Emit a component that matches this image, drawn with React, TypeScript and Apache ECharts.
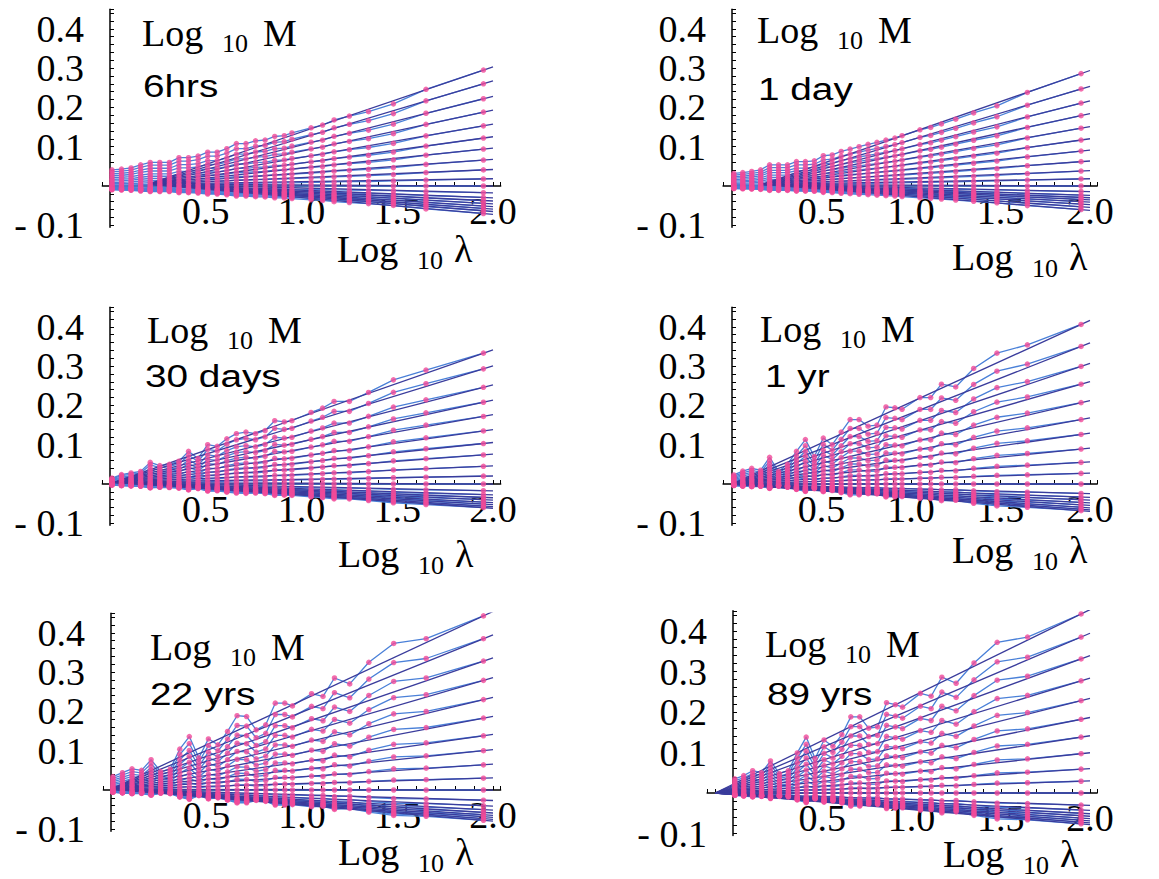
import React, { useEffect, useRef } from 'react';
import * as echarts from 'echarts';

// ---- data ----
const xs = [0.01, 0.06, 0.11, 0.16, 0.21, 0.26, 0.31, 0.36, 0.41, 0.46, 0.51, 0.56, 0.61, 0.66, 0.71, 0.76, 0.81, 0.86, 0.91, 0.95, 1.05, 1.11, 1.17, 1.25, 1.35, 1.48, 1.65, 1.95];

const panelTitles = ['6hrs', '1 day', '30 days', '1 yr', '22 yrs', '89 yrs'];

// top (highest-q) empirical curve of each panel
const top6hrs = [0.041, 0.043, 0.046, 0.054, 0.06, 0.06, 0.06, 0.072, 0.072, 0.076, 0.086, 0.086, 0.095, 0.108, 0.108, 0.115, 0.117, 0.126, 0.128, 0.135, 0.148, 0.155, 0.168, 0.178, 0.189, 0.209, 0.246, 0.295];
const top1day = [0.032, 0.034, 0.037, 0.041, 0.054, 0.054, 0.054, 0.062, 0.062, 0.064, 0.077, 0.079, 0.088, 0.094, 0.1, 0.106, 0.111, 0.117, 0.122, 0.128, 0.143, 0.149, 0.158, 0.17, 0.186, 0.204, 0.238, 0.286];
const top30days = [0.015, 0.024, 0.028, 0.032, 0.055, 0.047, 0.05, 0.058, 0.083, 0.065, 0.1, 0.096, 0.115, 0.128, 0.132, 0.128, 0.136, 0.161, 0.158, 0.161, 0.182, 0.193, 0.21, 0.21, 0.233, 0.265, 0.29, 0.333];
const top1yr = [0.023, 0.033, 0.04, 0.035, 0.068, 0.032, 0.05, 0.083, 0.113, 0.07, 0.117, 0.1, 0.132, 0.164, 0.164, 0.147, 0.15, 0.196, 0.194, 0.19, 0.22, 0.22, 0.254, 0.247, 0.294, 0.333, 0.354, 0.406];
const top22yrs = [0.034, 0.044, 0.054, 0.05, 0.077, 0.047, 0.053, 0.104, 0.136, 0.082, 0.13, 0.115, 0.149, 0.189, 0.187, 0.153, 0.166, 0.221, 0.221, 0.214, 0.245, 0.238, 0.285, 0.27, 0.325, 0.373, 0.385, 0.443];
const top89yrs = [0.035, 0.043, 0.055, 0.05, 0.079, 0.048, 0.055, 0.099, 0.138, 0.085, 0.131, 0.115, 0.144, 0.188, 0.188, 0.16, 0.163, 0.223, 0.218, 0.212, 0.246, 0.239, 0.286, 0.271, 0.321, 0.372, 0.385, 0.442];

// value of every moment curve at the last scale (log10 λ = 1.95)
const ends6hrs = [0.295, 0.26, 0.222, 0.188, 0.153, 0.122, 0.094, 0.066, 0.041, 0.018, 0.0, -0.017, -0.029, -0.037, -0.044, -0.051, -0.057, -0.063, -0.07];
const ends1day = [0.286, 0.247, 0.211, 0.179, 0.147, 0.117, 0.089, 0.062, 0.038, 0.018, 0.0, -0.014, -0.023, -0.029, -0.034, -0.04, -0.046, -0.053, -0.06];
const ends30days = [0.333, 0.293, 0.246, 0.208, 0.172, 0.135, 0.103, 0.074, 0.045, 0.02, 0.0, -0.017, -0.027, -0.034, -0.04, -0.046, -0.051, -0.056, -0.06];
const ends1yr = [0.406, 0.35, 0.299, 0.254, 0.207, 0.164, 0.126, 0.089, 0.055, 0.027, 0.0, -0.024, -0.033, -0.04, -0.047, -0.053, -0.059, -0.064, -0.068];
const ends22yrs = [0.443, 0.385, 0.328, 0.279, 0.23, 0.183, 0.138, 0.1, 0.064, 0.03, 0.0, -0.026, -0.04, -0.05, -0.057, -0.063, -0.068, -0.073, -0.077];
const ends89yrs = [0.442, 0.385, 0.331, 0.277, 0.228, 0.182, 0.138, 0.097, 0.059, 0.029, 0.0, -0.03, -0.042, -0.05, -0.056, -0.062, -0.067, -0.072, -0.076];

// point where the fitted straight lines converge, per panel [log10 λ, log10 M]
const fitOrigins = [[0.2, 0.005], [0.17, 0.004], [0.02, 0.004], [0.0, 0.0], [0.0, 0.002], [-0.1, 0.0]];
const FIT_END_X = 2.0;

const tops = [top6hrs, top1day, top30days, top1yr, top22yrs, top89yrs];
const ends = [ends6hrs, ends1day, ends30days, ends1yr, ends22yrs, ends89yrs];

// ---- layout (pixels) ----
const layout = [
  { ox: 110, oy: 186, px: 191.5, py: 393, xMin: -0.04, yLog: [142, 46], title: [143, 97], xLog: [337, 262] },
  { ox: 732, oy: 186, px: 179, py: 393, xMin: -0.05, yLog: [757, 43], title: [758, 100], xLog: [952, 270] },
  { ox: 110, oy: 484, px: 191.5, py: 393, xMin: -0.04, yLog: [147, 343], title: [145, 387], xLog: [338, 567] },
  { ox: 732, oy: 484, px: 179, py: 393, xMin: -0.05, yLog: [760, 342], title: [765, 387], xLog: [952, 563] },
  { ox: 111, oy: 790, px: 191, py: 393, xMin: -0.04, yLog: [150, 660], title: [150, 705], xLog: [338, 865] },
  { ox: 733, oy: 793, px: 178.5, py: 405, xMin: -0.145, yLog: [765, 657], title: [767, 705], xLog: [943, 867] },
];
const X_MAX = 2.04, Y_MIN = -0.105, Y_MAX = 0.45;

const SERIF = '"Liberation Serif", "Times New Roman", serif';
const SANS = '"Liberation Sans", Arial, sans-serif';
const DATA_C = '#4a80d8';
const FIT_C = '#3a3c9c';
const DOT_C = '#f04a98';
const TICK_FONT = 38;

function txt(s: string, x: number, baseline: number, size: number, family: string, scaleX = 1) {
  return {
    type: 'text', x, y: baseline - size * 0.35, scaleX, silent: true,
    style: { text: s, fontSize: size, fontFamily: family, fill: '#000', textAlign: 'left', verticalAlign: 'middle', textVerticalAlign: 'middle' },
  };
}

function buildOption() {
  const grid: any[] = [], xAxis: any[] = [], yAxis: any[] = [], series: any[] = [], graphic: any[] = [];
  layout.forEach((L, pi) => {
    grid.push({ left: L.ox + L.xMin * L.px, width: (X_MAX - L.xMin) * L.px, top: L.oy - Y_MAX * L.py, height: (Y_MAX - Y_MIN) * L.py });
    // labels are laid out from the grid edge, so offset them back to the zero lines
    const belowZero = -Y_MIN * L.py;
    const leftOfZero = -L.xMin * L.px;
    xAxis.push({
      type: 'value', gridIndex: pi, min: L.xMin, max: X_MAX, minInterval: 0.1, maxInterval: 0.1,
      axisLine: { onZero: true, lineStyle: { color: '#000', width: 1.5 } },
      axisTick: { inside: true, length: 4, lineStyle: { color: '#000', width: 1 } },
      splitLine: { show: false },
      axisLabel: {
        margin: 6 - belowZero, color: '#000', fontFamily: SERIF, fontSize: TICK_FONT,
        formatter: (v: number) => { const r = Math.round(v * 100) / 100; return r > 0 && Math.abs(r * 2 - Math.round(r * 2)) < 1e-6 ? r.toFixed(1) : ''; },
      },
    });
    yAxis.push({
      type: 'value', gridIndex: pi, min: Y_MIN, max: Y_MAX, minInterval: 0.02, maxInterval: 0.02,
      axisLine: { onZero: true, lineStyle: { color: '#000', width: 1.5 } },
      axisTick: { inside: true, length: 4, lineStyle: { color: '#000', width: 1 } },
      splitLine: { show: false },
      axisLabel: {
        margin: 26 - leftOfZero, color: '#000', fontFamily: SERIF, fontSize: TICK_FONT,
        formatter: (v: number) => {
          const r = Math.round(v * 100) / 100;
          if (r === 0 || Math.abs(r * 10 - Math.round(r * 10)) > 1e-6) return '';
          return r < 0 ? '- ' + Math.abs(r).toFixed(1) : r.toFixed(1);
        },
      },
    });
    const top = tops[pi];
    const topEnd = top[top.length - 1];
    const [x0, y0] = fitOrigins[pi];
    const lastX = xs[xs.length - 1];
    const dots: number[][] = [];
    ends[pi].forEach((e) => {
      const f = e / topEnd;
      const pts = xs.map((x, j) => [x, +(top[j] * f).toFixed(4)]);
      pts.forEach((p) => dots.push(p));
      series.push({ type: 'line', xAxisIndex: pi, yAxisIndex: pi, data: pts, symbol: 'none', silent: true, z: 2, lineStyle: { color: DATA_C, width: 1.3 } });
      const yEnd = y0 + (e - y0) * (FIT_END_X - x0) / (lastX - x0);
      series.push({ type: 'line', xAxisIndex: pi, yAxisIndex: pi, data: [[x0, y0], [FIT_END_X, +yEnd.toFixed(4)]], symbol: 'none', silent: true, z: 3, lineStyle: { color: FIT_C, width: 1.3 } });
    });
    series.push({ type: 'scatter', xAxisIndex: pi, yAxisIndex: pi, data: dots, symbolSize: 5.5, silent: true, z: 4, itemStyle: { color: DOT_C } });

    // texts
    const [ax, ab] = L.yLog;
    graphic.push(txt('Log', ax, ab, 38, SERIF), txt('10', ax + 80, ab + 7, 26, SERIF), txt('M', ax + 121, ab, 38, SERIF));
    const [bx, bb] = L.xLog;
    graphic.push(txt('Log', bx, bb, 38, SERIF), txt('10', bx + 80, bb + 8, 26, SERIF), txt('λ', bx + 117, bb, 38, SERIF));
    graphic.push(txt(panelTitles[pi], L.title[0], L.title[1], 31, SANS, 1.25));
  });
  return { animation: false, backgroundColor: '#fff', grid, xAxis, yAxis, series, graphic };
}

export default function App() {
  const ref = useRef<HTMLDivElement>(null);
  useEffect(() => {
    if (!ref.current) return;
    const chart = echarts.init(ref.current, undefined, { renderer: 'svg' });
    chart.setOption(buildOption() as any);
    return () => chart.dispose();
  }, []);
  return <div ref={ref} style={{ position: 'absolute', left: 0, top: 0, width: 1159, height: 879 }} />;
}
